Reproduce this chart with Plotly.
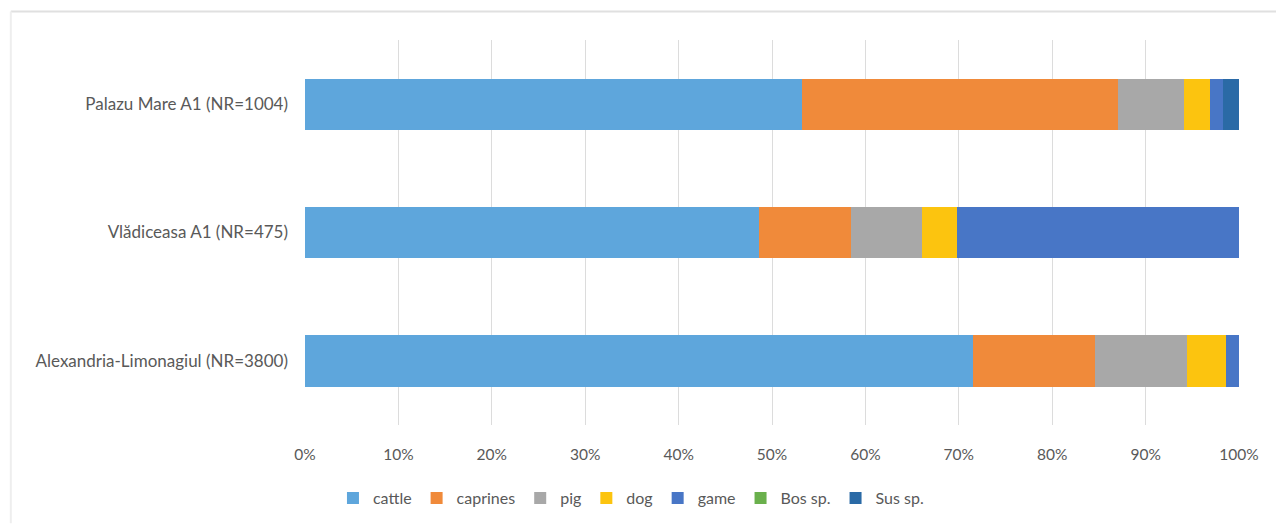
import plotly.graph_objects as go

# Sites (bottom to top as drawn)
sites = [
    "Alexandria-Limonagiul (NR=3800)",
    "Vlădiceasa A1 (NR=475)",
    "Palazu Mare A1 (NR=1004)",
]

# Percentage share of each taxon per site
cattle   = [71.5, 48.6, 53.2]
caprines = [13.1, 9.9, 33.8]
pig      = [9.8, 7.6, 7.1]
dog      = [4.2, 3.7, 2.8]
game     = [1.4, 30.2, 1.4]
bos_sp   = [0.0, 0.0, 0.0]
sus_sp   = [0.0, 0.0, 1.7]

series = [
    ("cattle", cattle, "#5ea6dc"),
    ("caprines", caprines, "#f08a3a"),
    ("pig", pig, "#a8a8a8"),
    ("dog", dog, "#fcc40f"),
    ("game", game, "#4876c6"),
    ("Bos sp.", bos_sp, "#6ab04c"),
    ("Sus sp.", sus_sp, "#2a6aa6"),
]

tick_vals = [0, 10, 20, 30, 40, 50, 60, 70, 80, 90, 100]
tick_text = [f"{v}%" for v in tick_vals]

fig = go.Figure()
for name, vals, color in series:
    fig.add_trace(go.Bar(
        y=sites, x=vals, name=name, orientation="h",
        marker=dict(color=color, line=dict(width=0)),
    ))

font_family = "Lato, 'Open Sans', sans-serif"
fig.update_layout(
    barmode="stack",
    bargap=0.6,
    width=1276, height=527,
    margin=dict(l=305, r=37, t=40, b=100),
    paper_bgcolor="white",
    plot_bgcolor="white",
    font=dict(family=font_family, size=15, color="#595959"),
    xaxis=dict(
        range=[0, 100], tickvals=tick_vals, ticktext=tick_text,
        showgrid=True, gridcolor="#dcdcdc", gridwidth=1,
        zeroline=False, showline=False, ticks="",
        ticklabelstandoff=18,
        tickfont=dict(size=15.5, color="#595959"),
    ),
    yaxis=dict(
        showgrid=False, zeroline=False, showline=False, ticks="",
        ticklabelstandoff=16,
        tickfont=dict(size=17, color="#595959"),
    ),
    legend=dict(
        orientation="h", x=0.349, xanchor="center", y=-0.19, yanchor="middle",
        font=dict(size=16, color="#595959"),
        itemwidth=30, traceorder="normal",
        itemclick=False,
    ),
    showlegend=True,
    shapes=[
        dict(type="line", xref="paper", yref="paper",
             x0=-0.315, x1=1.04, y0=1.074, y1=1.074,
             line=dict(color="#e0e0e0", width=2)),
        dict(type="line", xref="paper", yref="paper",
             x0=-0.315, x1=-0.315, y0=1.074, y1=-0.255,
             line=dict(color="#eeeeee", width=2)),
    ],
)

fig.write_html("out.html")
